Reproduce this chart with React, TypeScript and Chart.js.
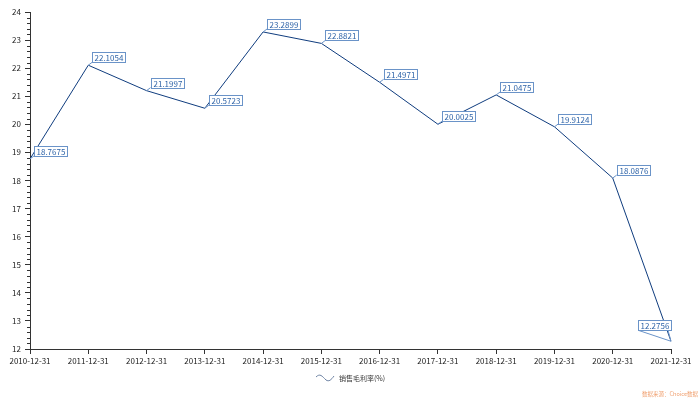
import React, { useEffect, useRef } from "react";
import { Chart, registerables } from "chart.js";

Chart.register(...registerables);

const categories = [
  "2010-12-31", "2011-12-31", "2012-12-31", "2013-12-31", "2014-12-31", "2015-12-31",
  "2016-12-31", "2017-12-31", "2018-12-31", "2019-12-31", "2020-12-31", "2021-12-31",
];
const grossMargin = [
  18.7675, 22.1054, 21.1997, 20.5723, 23.2899, 22.8821,
  21.4971, 20.0025, 21.0475, 19.9124, 18.0876, 12.2756,
];
const seriesName = "销售毛利率(%)";
const sourceText = "数据来源：Choice数据";

const FONT = "'Noto Sans CJK SC', 'Noto Sans', sans-serif";
const LINE = "#0f3c7e";
const BOX = "#6a93c8";
const BOXTEXT = "#2f64a8";
const AXIS = "#333333";

const labelPlugin = {
  id: "boxLabels",
  afterDatasetsDraw(chart: any) {
    const ctx = chart.ctx;
    const meta = chart.getDatasetMeta(0);
    const data = chart.data.datasets[0].data as number[];
    ctx.save();
    ctx.font = `8px ${FONT}`;
    ctx.textBaseline = "middle";
    meta.data.forEach((pt: any, i: number) => {
      const txt = String(data[i]);
      const w = ctx.measureText(txt).width + 4;
      const h = 10;
      let bx = pt.x + 4;
      let by = pt.y - 3 - h;
      let lx = bx;
      let ly = by + h;
      if (bx + w > chart.chartArea.right) {
        bx = pt.x - w;
        by = pt.y - 21;
        lx = bx + w - 3;
        ly = by + h;
      }
      ctx.strokeStyle = BOX;
      ctx.lineWidth = 1;
      ctx.beginPath();
      ctx.moveTo(pt.x, pt.y);
      ctx.lineTo(lx, ly);
      if (lx !== bx) {
        ctx.moveTo(pt.x, pt.y);
        ctx.lineTo(bx, ly);
      }
      ctx.stroke();
      ctx.fillStyle = "#ffffff";
      ctx.fillRect(Math.round(bx) + 0.5, Math.round(by) + 0.5, Math.round(w), h);
      ctx.strokeRect(Math.round(bx) + 0.5, Math.round(by) + 0.5, Math.round(w), h);
      ctx.fillStyle = BOXTEXT;
      ctx.textAlign = "left";
      ctx.fillText(txt, Math.round(bx) + 2.5, Math.round(by) + 0.5 + h / 2);
    });
    ctx.restore();
  },
};

const extrasPlugin = {
  id: "extras",
  afterDraw(chart: any) {
    const ctx = chart.ctx;
    const y = chart.scales.y;
    const left = chart.chartArea.left;
    ctx.save();
    // minor ticks
    ctx.strokeStyle = AXIS;
    ctx.lineWidth = 1;
    ctx.beginPath();
    for (let v = 12; v <= 24.001; v += 0.2) {
      const r = Math.round(v * 10) / 10;
      if (Math.abs(r - Math.round(r)) < 0.001) continue;
      const py = Math.round(y.getPixelForValue(r)) + 0.5;
      ctx.moveTo(left - 3, py);
      ctx.lineTo(left, py);
    }
    ctx.stroke();
    // legend
    const lx = 316;
    const ly = 378;
    ctx.strokeStyle = "#6d82a3";
    ctx.lineWidth = 1;
    ctx.beginPath();
    ctx.moveTo(lx, ly - 1);
    ctx.bezierCurveTo(lx + 4, ly - 5, lx + 6, ly - 2, lx + 10, ly + 2);
    ctx.bezierCurveTo(lx + 13, ly + 4, lx + 15, ly + 2, lx + 18, ly - 2);
    ctx.stroke();
    ctx.font = `7px ${FONT}`;
    ctx.fillStyle = "#333";
    ctx.textAlign = "left";
    ctx.textBaseline = "middle";
    ctx.fillText(chart.data.datasets[0].label, 339, ly);
    // source
    ctx.font = `5.5px ${FONT}`;
    ctx.fillStyle = "#f0a070";
    ctx.textAlign = "right";
    ctx.fillText(sourceText, chart.width - 2, chart.height - 5);
    ctx.restore();
  },
};

export default function App() {
  const ref = useRef<HTMLCanvasElement | null>(null);
  useEffect(() => {
    if (!ref.current) return;
    const chart = new Chart(ref.current, {
      type: "line",
      data: {
        labels: categories,
        datasets: [
          {
            label: seriesName,
            data: grossMargin,
            borderColor: LINE,
            backgroundColor: LINE,
            borderWidth: 1,
            pointRadius: 0,
            tension: 0,
            fill: false,
          },
        ],
      },
      options: {
        animation: false,
        responsive: true,
        maintainAspectRatio: false,
        layout: { padding: { top: 12, right: 29, left: 0, bottom: 32 } },
        scales: {
          x: {
            type: "category",
            offset: false,
            grid: { drawOnChartArea: false, drawTicks: true, tickLength: 5, color: AXIS },
            border: { color: AXIS },
            ticks: {
              color: "#222",
              font: { size: 8, family: FONT },
              maxRotation: 0,
              autoSkip: false,
              padding: 2,
            },
            afterFit: (s: any) => { s.height = 18; },
          },
          y: {
            min: 12,
            max: 24,
            grid: { drawOnChartArea: false, drawTicks: true, tickLength: 5, color: AXIS },
            border: { color: AXIS },
            ticks: {
              stepSize: 1,
              color: "#222",
              font: { size: 8, family: FONT },
              padding: 4,
            },
            afterFit: (s: any) => { s.width = 30; },
          },
        },
        plugins: {
          legend: { display: false },
          tooltip: { enabled: false },
        },
      },
      plugins: [labelPlugin, extrasPlugin],
    });
    return () => chart.destroy();
  }, []);
  return (
    <div style={{ position: "fixed", left: 0, top: 0, width: 700, height: 399, background: "#fff" }}>
      <canvas ref={ref} />
    </div>
  );
}
